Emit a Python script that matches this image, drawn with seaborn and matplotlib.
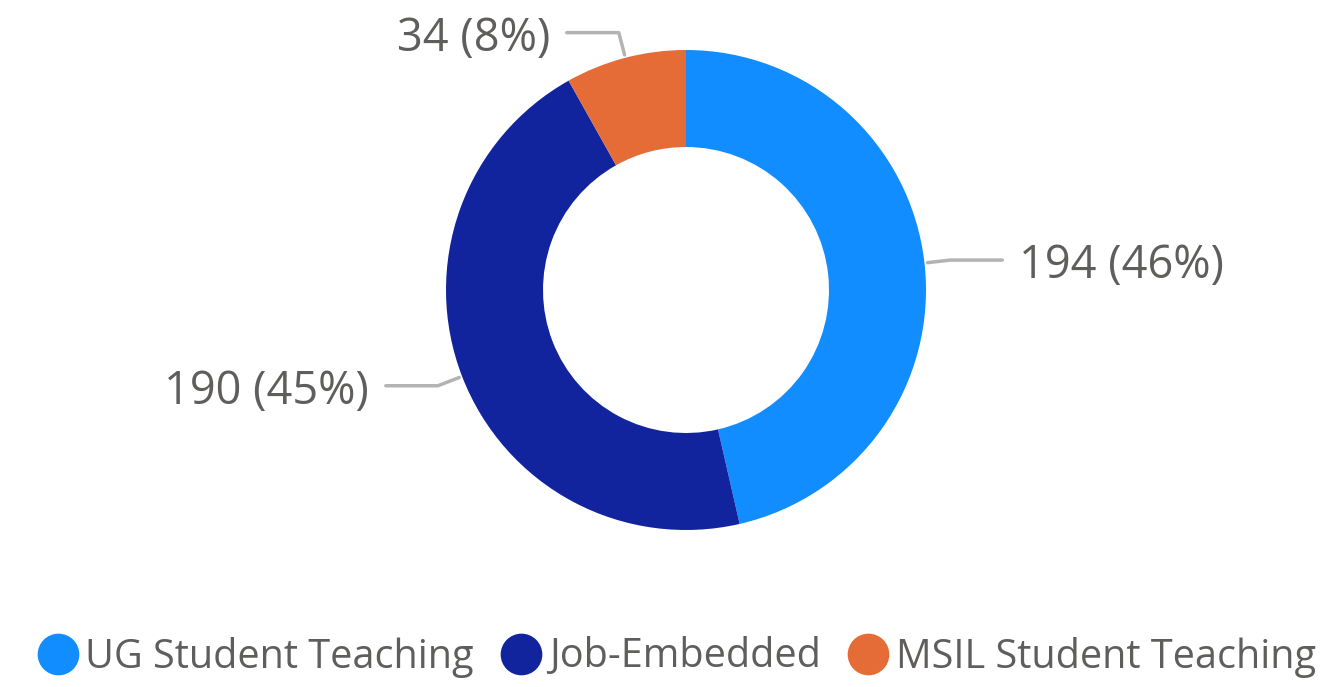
import numpy as np
import matplotlib.pyplot as plt
import seaborn as sns
from matplotlib.lines import Line2D

# data
labels = ['UG Student Teaching', 'Job-Embedded', 'MSIL Student Teaching']
counts = [194, 190, 34]
colors = ['#118DFF', '#12239E', '#E66C37']

sns.set_theme(style='white')
plt.rcParams['font.family'] = ['Open Sans', 'DejaVu Sans']
txt_col = '#605E5C'
line_col = '#B3B3B3'

W, H = 1322, 687
fig = plt.figure(figsize=(W / 100, H / 100), dpi=100)
ax = fig.add_axes([0, 0, 1, 1])
ax.set_xlim(0, W)
ax.set_ylim(0, H)
ax.set_aspect('equal')
ax.axis('off')

cx, cy, R = 686, H - 290, 240
wedges, _ = ax.pie(counts, colors=colors, startangle=90, counterclock=False,
                   center=(cx, cy), radius=R,
                   wedgeprops=dict(width=R - 143, linewidth=0))
ax.set_xlim(0, W)
ax.set_ylim(0, H)

total = sum(counts)
for w, n in zip(wedges, counts):
    mid = np.deg2rad((w.theta1 + w.theta2) / 2)
    c, s = np.cos(mid), np.sin(mid)
    p0 = (cx + (R + 3) * c, cy + (R + 3) * s)
    p1 = (cx + (R + 26) * c, cy + (R + 26) * s)
    side = 1 if c >= 0 else -1
    p2 = (p1[0] + side * 52, p1[1])
    ax.plot([p0[0], p1[0], p2[0]], [p0[1], p1[1], p2[1]], color=line_col, lw=2.5,
            solid_capstyle='round', solid_joinstyle='round')
    ax.text(p2[0] + side * 17, p2[1] - 6, f'{n} ({round(n / total * 100)}%)',
            ha='left' if side > 0 else 'right', va='center', fontsize=32.5, color=txt_col)

handles = [Line2D([], [], marker='o', ls='', markersize=30, markerfacecolor=col,
                  markeredgewidth=0) for col in colors]
fig.legend(handles, labels, loc='center', bbox_to_anchor=(676 / W, 1 - 657 / H), ncol=3,
           frameon=False, fontsize=28.5, labelcolor=txt_col, handletextpad=0.15,
           columnspacing=0.65, handlelength=1.1)

fig.savefig('out.png', dpi=100)
